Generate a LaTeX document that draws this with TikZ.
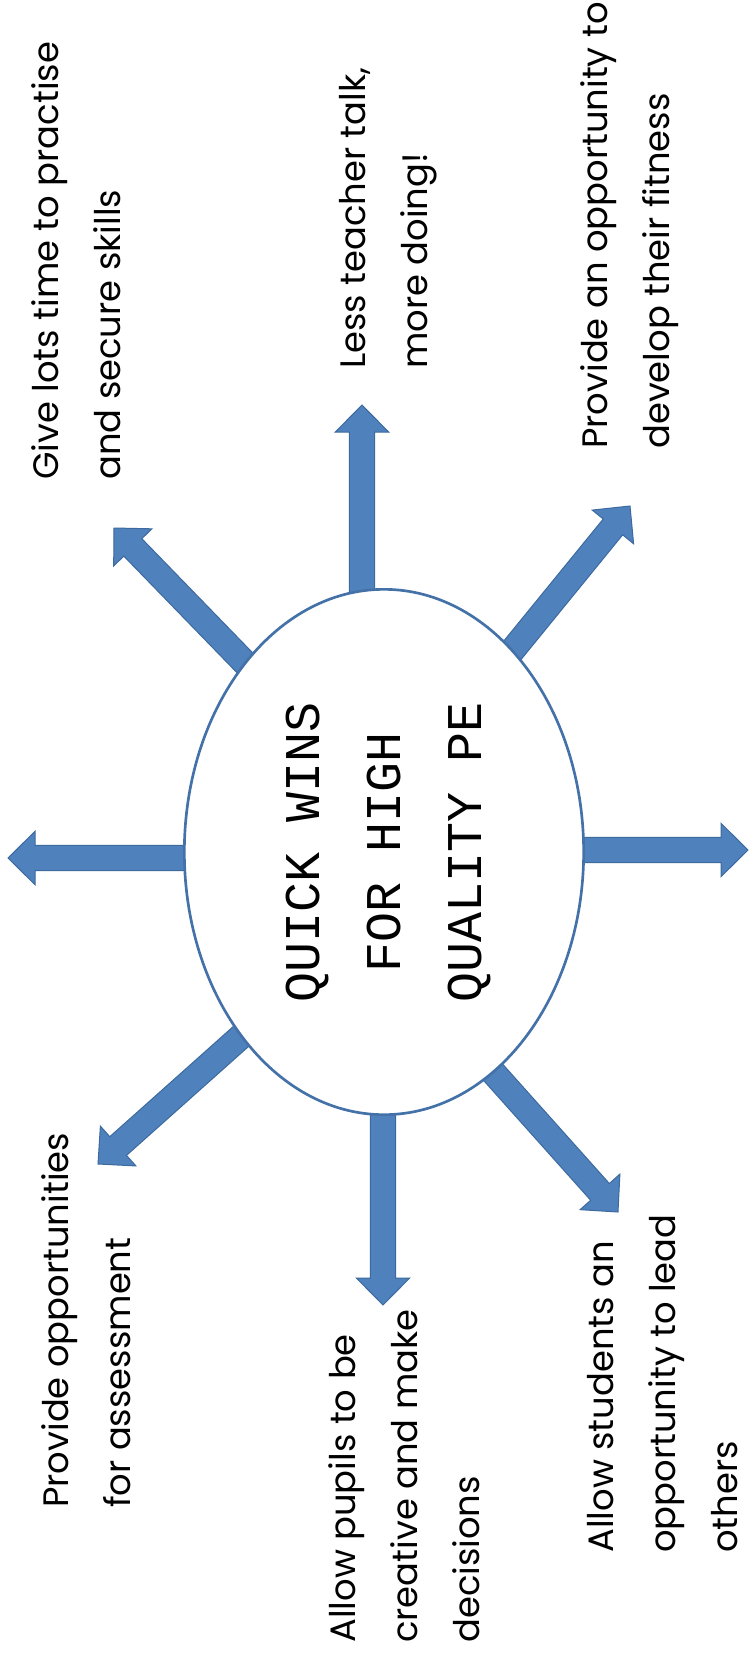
\documentclass[tikz,border=0pt]{standalone}
\usepackage{fontspec}
\usetikzlibrary{shapes.geometric,calc}
\newfontfamily\lblfamily{Poppins}
\newfontfamily\ttlfamily{Liberation Mono}
\definecolor{arrowfill}{HTML}{4F81BD}
\definecolor{arrowline}{HTML}{3C6A9E}
\definecolor{ellline}{HTML}{4472A8}
\pgfdeclarelayer{bg}
\pgfsetlayers{bg,main}
\newcommand\blockarrow[2]{%
  \path ($(#2)!20.25pt!(#1)$) coordinate (hb);
  \filldraw[blockarrowstyle] ($(#1)!9.4pt!90:(#2)$) -- ($(hb)!9.4pt!90:(#2)$) -- ($(hb)!20pt!90:(#2)$) -- (#2) -- ($(hb)!20pt!-90:(#2)$) -- ($(hb)!9.4pt!-90:(#2)$) -- ($(#1)!9.4pt!-90:(#2)$) -- cycle;}
\begin{document}
\begin{tikzpicture}[x=0.75pt,y=-0.75pt,
  lbl/.style={rotate=90,anchor=north west,align=left,inner sep=0pt,
    font=\lblfamily\fontsize{26.5pt}{46.5pt}\selectfont},
  blockarrowstyle/.style={fill=arrowfill,draw=arrowline,line width=0.75pt,line join=miter},
  hub/.style={ellipse,draw=ellline,line width=2pt,fill=white,rotate=90,
    minimum width=394pt,minimum height=299.5pt,inner sep=0pt,align=center,
    font=\ttlfamily\fontsize{37.5pt}{60.75pt}\selectfont}]
\useasboundingbox (0,0) rectangle (749,1653);
\node[hub] (hub) at (384,852) {\rule{0pt}{32pt}QUICK WINS\\FOR HIGH\\QUALITY PE};
% arrow ends
\coordinate (sW) at (230,858);  \coordinate (tW) at (8,858);
\coordinate (sE) at (540,850);  \coordinate (tE) at (748,850);
\coordinate (sN) at (362,640);  \coordinate (tN) at (362,405);
\coordinate (sS) at (383,1060); \coordinate (tS) at (383,1305);
\coordinate (sNW) at (280,699); \coordinate (tNW) at (114,528);
\coordinate (sNE) at (480,690); \coordinate (tNE) at (630,506);
\coordinate (sSW) at (265,1015);\coordinate (tSW) at (98,1164);
\coordinate (sSE) at (475,1052);\coordinate (tSE) at (618,1212);
\begin{pgfonlayer}{bg}
\fill[white] (0,0) rectangle (749,1653);
\blockarrow{sW}{tW}
\blockarrow{sE}{tE}
\blockarrow{sN}{tN}
\blockarrow{sS}{tS}
\blockarrow{sNW}{tNW}
\blockarrow{sNE}{tNE}
\blockarrow{sSW}{tSW}
\blockarrow{sSE}{tSE}
\end{pgfonlayer}
% labels
\node[lbl] (lskills) at (23,480) {\rule{0pt}{26.5pt}Give lots time to practise\\and secure skills};
\node[lbl] (ltalk) at (330,369) {\rule{0pt}{26.5pt}Less teacher talk,\\more doing!};
\node[lbl] (lfit) at (572,449) {\rule{0pt}{26.5pt}Provide an opportunity to\\develop their fitness};
\node[lbl] (lassess) at (33,1508) {\rule{0pt}{26.5pt}Provide opportunities\\for assessment};
\node[lbl] (lcreate) at (320,1643) {\rule{0pt}{26.5pt}Allow pupils to be\\creative and make\\decisions};
\node[lbl] (llead) at (578,1553) {\rule{0pt}{26.5pt}Allow students an\\opportunity to lead\\others};
\end{tikzpicture}
\end{document}
